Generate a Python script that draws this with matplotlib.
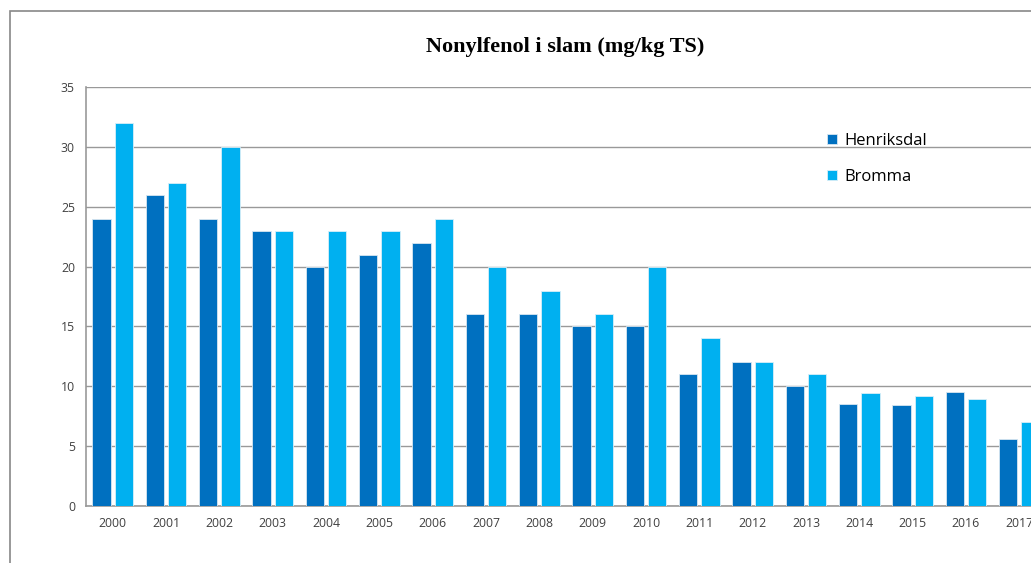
import numpy as np
import matplotlib.pyplot as plt
from matplotlib.patches import Rectangle

years = [str(y) for y in range(2000, 2018)]
henriksdal = [24, 26, 24, 23, 20, 21, 22, 16, 16, 15, 15, 11, 12, 10, 8.5, 8.4, 9.5, 5.6]
bromma = [32, 27, 30, 23, 23, 23, 24, 20, 18, 16, 20, 14, 12, 11, 9.4, 9.2, 8.9, 7.0]

fig = plt.figure(figsize=(10.31, 5.63), dpi=100)

# outer chart frame (continues past the right/bottom edge)
fig.patches.append(Rectangle((10 / 1031, -0.1), 1.2, 1 - 11 / 563 + 0.1,
                             transform=fig.transFigure, fill=False,
                             edgecolor='#888888', linewidth=1.2))

ax = fig.add_axes([86 / 1031, 57 / 563, 960 / 1031, 419 / 563])
x = np.arange(len(years))
w = 0.34
ax.bar(x - 0.21, henriksdal, w, color='#0070C0', edgecolor='#d8e6f0', linewidth=0.6,
       label='Henriksdal', zorder=3)
ax.bar(x + 0.21, bromma, w, color='#00B0F0', edgecolor='#d8eef8', linewidth=0.6,
       label='Bromma', zorder=3)

ax.set_xlim(-0.5, len(years) - 0.5)
ax.set_ylim(0, 35)
ax.set_yticks(range(0, 36, 5))
ax.set_xticks(x)
ax.set_xticklabels(years)
ax.yaxis.grid(True, color='#999999', linewidth=1.0, zorder=0)
ax.tick_params(length=0, labelsize=8.8, colors='#404040', pad=8)
for lab in ax.get_xticklabels() + ax.get_yticklabels():
    lab.set_family('Open Sans')
for s in ['top', 'right']:
    ax.spines[s].set_visible(False)
for s in ['left', 'bottom']:
    ax.spines[s].set_color('#999999')
    ax.spines[s].set_linewidth(1.2)

fig.text(565 / 1031, 1 - 47 / 563, 'Nonylfenol i slam (mg/kg TS)', ha='center', va='center',
         fontsize=16, fontweight='bold', family='Liberation Serif')

ax.legend(loc='upper left', bbox_to_anchor=(812 / 1031, 1 - 118 / 563),
          bbox_transform=fig.transFigure, frameon=False, handlelength=0.6,
          handleheight=0.6, handletextpad=0.45, labelspacing=1.2,
          prop={'family': 'Open Sans', 'size': 12})

fig.savefig('out.png', dpi=100)
